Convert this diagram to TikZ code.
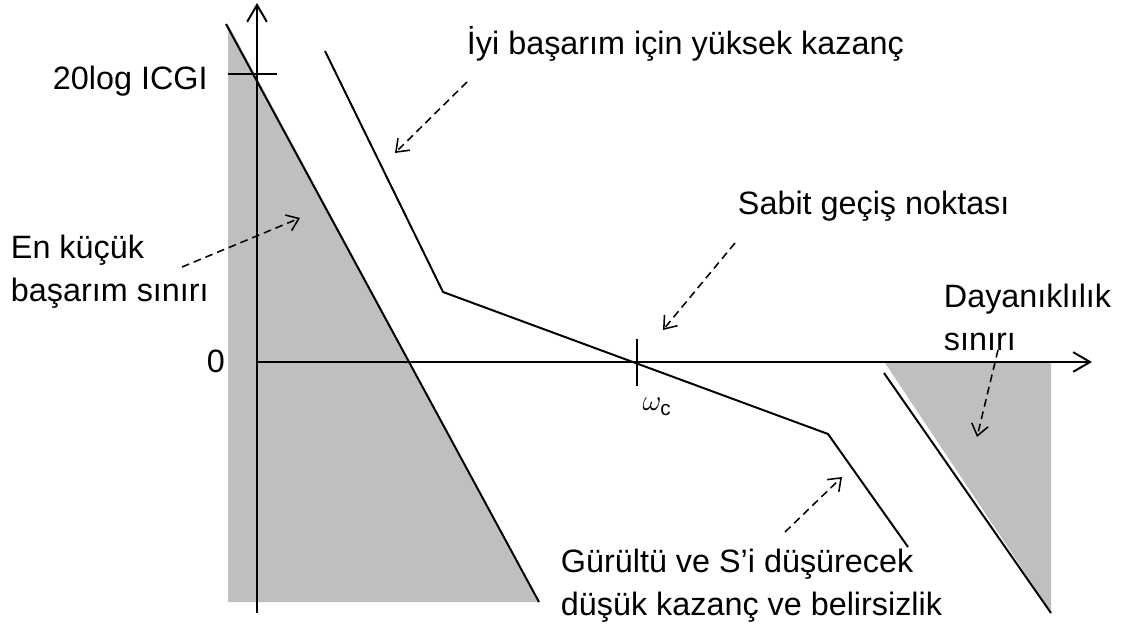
\documentclass[tikz,border=0pt]{standalone}
\usepackage{fontspec}
\setmainfont{Liberation Sans}
\usepackage{xcolor}
\usepackage{tikz}
\usetikzlibrary{arrows.meta}
\definecolor{bandgray}{RGB}{191,191,191}

\begin{document}
\begin{tikzpicture}[x=0.025cm, y=-0.025cm, line width=1.4pt,
  font=\fontsize{23}{30.5}\selectfont,
  axis/.style={-{Straight Barb[length=12pt,width=14pt]}},
  hint/.style={line width=1.1pt, dash pattern=on 5.5pt off 3.5pt, -{Straight Barb[length=8pt,width=12pt]}},
  lab/.style={inner sep=0pt, align=left}]
  \useasboundingbox (0,0) rectangle (1121,630);
  % limits and loop shape
  \coordinate (A1) at (226,24);  \coordinate (A2) at (539,602);
  \coordinate (B1) at (885,363); \coordinate (B2) at (1051,612);
  \coordinate (R1) at (884,373); \coordinate (R2) at (1051,613);
  \coordinate (L1) at (325,51);  \coordinate (L2) at (443,292);
  \coordinate (L3) at (828,434); \coordinate (L4) at (908,547);
  \coordinate (O) at (257,362);
  \fill[bandgray] (228,24) -- (A2) -- (228,602) -- cycle;
  \fill[bandgray] (B1) -- (1051,363) -- (B2) -- cycle;
  \draw (A1) -- (A2);
  \draw (R1) -- (R2);
  \draw (L1) -- (L2) -- (L3) -- (L4);
  \draw[axis] (257,613) -- (257,3);
  \draw[axis] (O) -- (1092,362);
  \draw (228,74) -- (277,74);
  \draw (637,339) -- (637,386);
  % labels
  \node[lab, anchor=base west] (gain) at (52,90) {20log ICGI};
  \node[lab, anchor=base west] (zero) at (206,373) {0};
  \node[lab, anchor=base west] (high) at (466,55) {İyi başarım için yüksek kazanç};
  \node[lab, anchor=base west] (cross) at (737,215) {Sabit geçiş noktası};
  \node[lab, anchor=north west] (minp) at (10,234) {En küçük\\başarım sınırı};
  \node[lab, anchor=north west] (robust) at (943,283) {Dayanıklılık\\sınırı};
  \node[lab, anchor=north west] (noise) at (560,548) {Gürültü ve S’i düşürecek\\düşük kazanç ve belirsizlik};
  \node[inner sep=0pt, font=\fontsize{21}{21}\selectfont] (wc) at (657,407) {$\omega_{\mathrm{c}}$};
  % pointers
  \coordinate (hT) at (467,82);  \coordinate (hH) at (395,153);
  \coordinate (mT) at (182,267); \coordinate (mH) at (300,218);
  \coordinate (cT) at (735,243); \coordinate (cH) at (663,330);
  \coordinate (rT) at (998,350); \coordinate (rH) at (977,437);
  \coordinate (nT) at (785,532); \coordinate (nH) at (842,477);
  \foreach \s/\e in {hT/hH, mT/mH, cT/cH, rT/rH, nT/nH}
    \draw[hint] (\s) -- (\e);
\end{tikzpicture}
\end{document}
